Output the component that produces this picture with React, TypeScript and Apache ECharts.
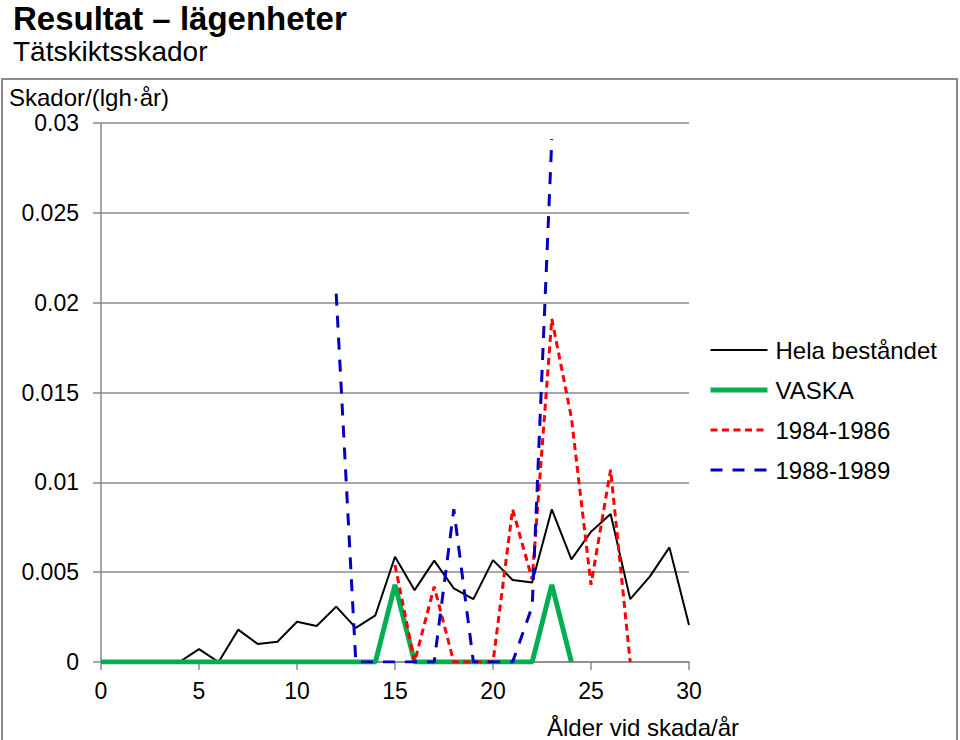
import React, { useEffect, useRef } from "react";
import * as echarts from "echarts";

const FONT = '"Liberation Sans", Arial, sans-serif';

const titleText = "Resultat – lägenheter";
const subtitleText = "Tätskiktsskador";
const yAxisTitle = "Skador/(lgh·år)";
const xAxisTitle = "Ålder vid skada/år";

const seriesNames = ["Hela beståndet", "VASKA", "1984-1986", "1988-1989"];

const helaAges = [0, 1, 2, 3, 4, 5, 6, 7, 8, 9, 10, 11, 12, 13, 14, 15, 16, 17, 18, 19, 20, 21, 22, 23, 24, 25, 26, 27, 28, 29, 30];
const helaValues = [0, 0, 0, 0, 0, 0.00072, 0, 0.0018, 0.001, 0.00113, 0.00224, 0.002, 0.00308, 0.0019, 0.0026, 0.00586, 0.004, 0.00564, 0.0041, 0.0035, 0.00567, 0.00456, 0.00443, 0.0085, 0.00571, 0.00725, 0.00824, 0.0035, 0.00475, 0.00638, 0.00206];

const vaskaAges = [0, 1, 2, 3, 4, 5, 6, 7, 8, 9, 10, 11, 12, 13, 14, 15, 16, 17, 18, 19, 20, 21, 22, 23, 24];
const vaskaValues = [0, 0, 0, 0, 0, 0, 0, 0, 0, 0, 0, 0, 0, 0, 0, 0.0043, 0, 0, 0, 0, 0, 0, 0, 0.0043, 0];

const p8486Ages = [15, 16, 17, 18, 19, 20, 21, 22, 23, 24, 25, 26, 27];
const p8486Values = [0.0054, 0, 0.0042, 0, 0, 0, 0.0085, 0.0046, 0.0191, 0.0136, 0.0043, 0.0107, 0];

const p8889Ages = [12, 13, 14, 15, 16, 17, 18, 19, 20, 21, 22, 23];
const p8889Values = [0.0205, 0, 0, 0, 0, 0, 0.0085, 0, 0, 0, 0.0031, 0.0291];

const xMin = 0;
const xMax = 30;
const xInterval = 5;
const yMin = 0;
const yMax = 0.03;
const yInterval = 0.005;

const colors = ["#000000", "#00b050", "#ff0000", "#0000c0"];
const widths = [2, 5, 3, 3];
const dashes: any[] = ["solid", "solid", [7, 4.5], [12, 10]];

function zip(xs: number[], ys: number[]) {
  return xs.map((x, i) => [x, ys[i]]);
}

export default function App() {
  const ref = useRef<HTMLDivElement>(null);
  useEffect(() => {
    if (!ref.current) return;
    const chart = echarts.init(ref.current, undefined, { renderer: "svg" });
    const datasets = [
      zip(helaAges, helaValues),
      zip(vaskaAges, vaskaValues),
      zip(p8486Ages, p8486Values),
      zip(p8889Ages, p8889Values),
    ];
    const gridColor = "#8a8a8a";
    chart.setOption({
      animation: false,
      backgroundColor: "#ffffff",
      textStyle: { fontFamily: FONT },
      grid: { left: 101, right: 271, top: 123, bottom: 78, containLabel: false },
      graphic: [
        {
          type: "rect",
          shape: { x: 2, y: 79, width: 955, height: 700 },
          style: { fill: "none", stroke: gridColor, lineWidth: 2 },
          silent: true,
        },
        {
          type: "text",
          x: 13,
          y: 18,
          style: { text: titleText, font: `bold 33px ${FONT}`, fill: "#000", verticalAlign: "middle" },
        },
        {
          type: "text",
          x: 13,
          y: 51,
          style: { text: subtitleText, font: `28px ${FONT}`, fill: "#000", verticalAlign: "middle" },
        },
        {
          type: "text",
          x: 9,
          y: 97,
          style: { text: yAxisTitle, font: `24px ${FONT}`, fill: "#000", verticalAlign: "middle" },
        },
        {
          type: "text",
          x: 643,
          y: 727,
          style: { text: xAxisTitle, font: `24px ${FONT}`, fill: "#000", align: "center", verticalAlign: "middle" },
        },
      ],
      legend: {
        orient: "vertical",
        left: 708,
        top: 338,
        padding: 0,
        itemWidth: 57,
        itemHeight: 24,
        itemGap: 16,
        textStyle: { fontSize: 24, color: "#000", fontFamily: FONT, lineHeight: 24, padding: [0, 0, 0, 3] },
        data: seriesNames.map((n, i) => ({
          name: n,
          itemStyle: { color: "rgba(0,0,0,0)", borderWidth: 0, opacity: 0 },
          lineStyle: { width: widths[i], type: dashes[i], color: colors[i] },
        })),
      },
      xAxis: {
        type: "value",
        min: xMin,
        max: xMax,
        interval: xInterval,
        axisLine: { show: true, onZero: false, lineStyle: { color: gridColor, width: 1.5 } },
        axisTick: { show: true, length: 8, lineStyle: { color: gridColor, width: 1.5 } },
        axisLabel: { fontSize: 23, color: "#000", margin: 17, fontFamily: FONT },
        splitLine: { show: false },
      },
      yAxis: {
        type: "value",
        min: yMin,
        max: yMax,
        interval: yInterval,
        axisLine: { show: true, lineStyle: { color: gridColor, width: 1.5 } },
        axisTick: { show: true, length: 8, lineStyle: { color: gridColor, width: 1.5 } },
        axisLabel: { fontSize: 23, color: "#000", margin: 22, fontFamily: FONT },
        splitLine: { show: true, lineStyle: { color: gridColor, width: 1.5 } },
      },
      series: seriesNames.map((n, i) => ({
        name: n,
        type: "line",
        data: datasets[i],
        symbol: "none",
        showSymbol: false,
        lineStyle: { color: colors[i], width: widths[i], type: dashes[i] },
        itemStyle: { color: colors[i] },
        z: 2 + i,
      })),
    });
    return () => chart.dispose();
  }, []);
  return (
    <div
      ref={ref}
      style={{ position: "absolute", left: 0, top: 0, width: 960, height: 740 }}
    />
  );
}
